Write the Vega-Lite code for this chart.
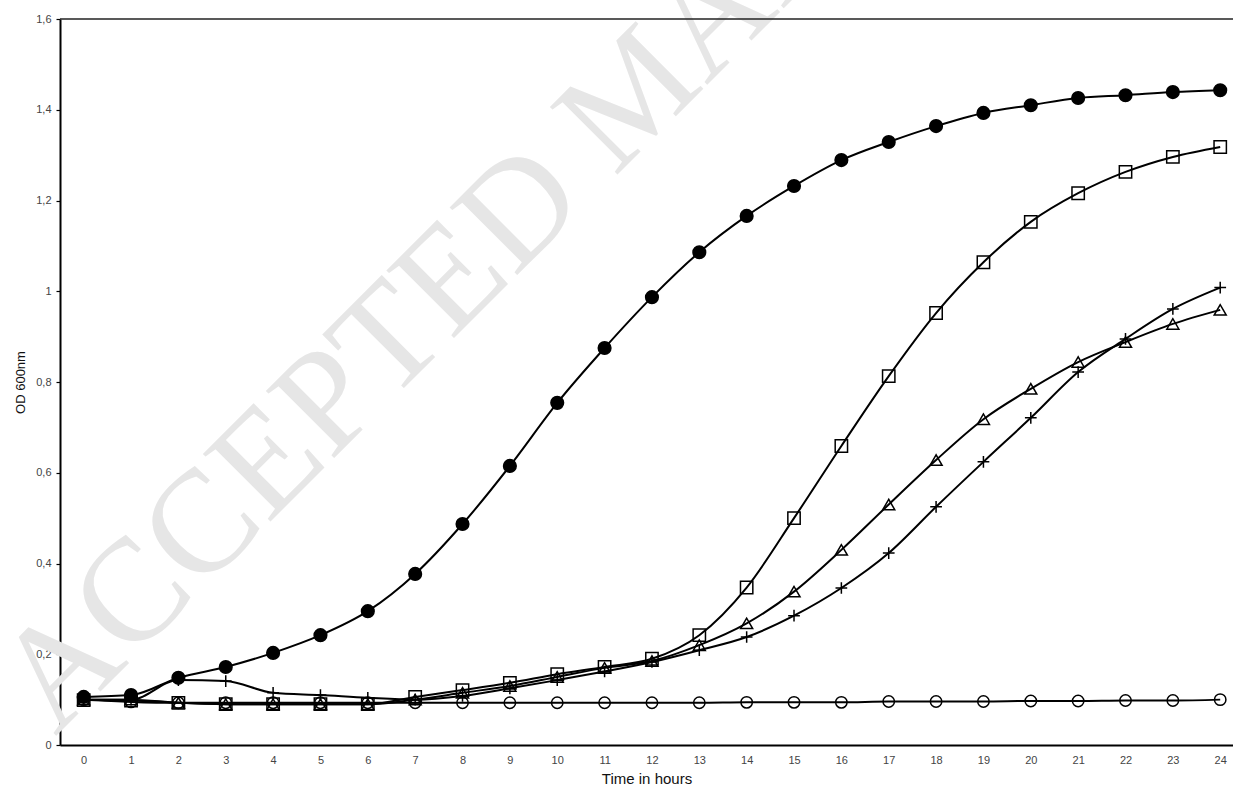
{
  "$schema": "https://vega.github.io/schema/vega-lite/v6.json",
  "autosize": {"type": "none"},
  "padding": {"left": 60, "top": 19, "right": 0, "bottom": 41},
  "width": 1173,
  "height": 726,
  "background": "white",
  "config": {
    "view": {"stroke": null},
    "font": "Liberation Sans"
  },
  "data": {
    "values": [
      {"hour":0,"series":"s1","od":0.106},{"hour":1,"series":"s1","od":0.110},{"hour":2,"series":"s1","od":0.148},{"hour":3,"series":"s1","od":0.172},{"hour":4,"series":"s1","od":0.203},{"hour":5,"series":"s1","od":0.242},{"hour":6,"series":"s1","od":0.295},{"hour":7,"series":"s1","od":0.377},{"hour":8,"series":"s1","od":0.487},{"hour":9,"series":"s1","od":0.615},{"hour":10,"series":"s1","od":0.754},{"hour":11,"series":"s1","od":0.875},{"hour":12,"series":"s1","od":0.987},{"hour":13,"series":"s1","od":1.086},{"hour":14,"series":"s1","od":1.166},{"hour":15,"series":"s1","od":1.232},{"hour":16,"series":"s1","od":1.289},{"hour":17,"series":"s1","od":1.329},{"hour":18,"series":"s1","od":1.364},{"hour":19,"series":"s1","od":1.393},{"hour":20,"series":"s1","od":1.410},{"hour":21,"series":"s1","od":1.426},{"hour":22,"series":"s1","od":1.432},{"hour":23,"series":"s1","od":1.439},{"hour":24,"series":"s1","od":1.443},
      {"hour":0,"series":"s2","od":0.099},{"hour":1,"series":"s2","od":0.098},{"hour":2,"series":"s2","od":0.093},{"hour":3,"series":"s2","od":0.090},{"hour":4,"series":"s2","od":0.090},{"hour":5,"series":"s2","od":0.090},{"hour":6,"series":"s2","od":0.090},{"hour":7,"series":"s2","od":0.106},{"hour":8,"series":"s2","od":0.121},{"hour":9,"series":"s2","od":0.137},{"hour":10,"series":"s2","od":0.156},{"hour":11,"series":"s2","od":0.172},{"hour":12,"series":"s2","od":0.190},{"hour":13,"series":"s2","od":0.242},{"hour":14,"series":"s2","od":0.347},{"hour":15,"series":"s2","od":0.500},{"hour":16,"series":"s2","od":0.659},{"hour":17,"series":"s2","od":0.813},{"hour":18,"series":"s2","od":0.952},{"hour":19,"series":"s2","od":1.064},{"hour":20,"series":"s2","od":1.153},{"hour":21,"series":"s2","od":1.216},{"hour":22,"series":"s2","od":1.263},{"hour":23,"series":"s2","od":1.296},{"hour":24,"series":"s2","od":1.318},
      {"hour":0,"series":"s3","od":0.100},{"hour":1,"series":"s3","od":0.100},{"hour":2,"series":"s3","od":0.093},{"hour":3,"series":"s3","od":0.090},{"hour":4,"series":"s3","od":0.090},{"hour":5,"series":"s3","od":0.090},{"hour":6,"series":"s3","od":0.090},{"hour":7,"series":"s3","od":0.100},{"hour":8,"series":"s3","od":0.115},{"hour":9,"series":"s3","od":0.130},{"hour":10,"series":"s3","od":0.150},{"hour":11,"series":"s3","od":0.170},{"hour":12,"series":"s3","od":0.185},{"hour":13,"series":"s3","od":0.220},{"hour":14,"series":"s3","od":0.268},{"hour":15,"series":"s3","od":0.338},{"hour":16,"series":"s3","od":0.430},{"hour":17,"series":"s3","od":0.530},{"hour":18,"series":"s3","od":0.628},{"hour":19,"series":"s3","od":0.718},{"hour":20,"series":"s3","od":0.785},{"hour":21,"series":"s3","od":0.844},{"hour":22,"series":"s3","od":0.888},{"hour":23,"series":"s3","od":0.928},{"hour":24,"series":"s3","od":0.959},
      {"hour":0,"series":"s4","od":0.100},{"hour":1,"series":"s4","od":0.100},{"hour":2,"series":"s4","od":0.143},{"hour":3,"series":"s4","od":0.141},{"hour":4,"series":"s4","od":0.115},{"hour":5,"series":"s4","od":0.110},{"hour":6,"series":"s4","od":0.104},{"hour":7,"series":"s4","od":0.100},{"hour":8,"series":"s4","od":0.108},{"hour":9,"series":"s4","od":0.125},{"hour":10,"series":"s4","od":0.143},{"hour":11,"series":"s4","od":0.162},{"hour":12,"series":"s4","od":0.183},{"hour":13,"series":"s4","od":0.209},{"hour":14,"series":"s4","od":0.238},{"hour":15,"series":"s4","od":0.285},{"hour":16,"series":"s4","od":0.346},{"hour":17,"series":"s4","od":0.423},{"hour":18,"series":"s4","od":0.525},{"hour":19,"series":"s4","od":0.624},{"hour":20,"series":"s4","od":0.721},{"hour":21,"series":"s4","od":0.822},{"hour":22,"series":"s4","od":0.895},{"hour":23,"series":"s4","od":0.961},{"hour":24,"series":"s4","od":1.008},
      {"hour":0,"series":"s5","od":0.100},{"hour":1,"series":"s5","od":0.095},{"hour":2,"series":"s5","od":0.093},{"hour":3,"series":"s5","od":0.093},{"hour":4,"series":"s5","od":0.093},{"hour":5,"series":"s5","od":0.093},{"hour":6,"series":"s5","od":0.093},{"hour":7,"series":"s5","od":0.093},{"hour":8,"series":"s5","od":0.093},{"hour":9,"series":"s5","od":0.093},{"hour":10,"series":"s5","od":0.093},{"hour":11,"series":"s5","od":0.093},{"hour":12,"series":"s5","od":0.093},{"hour":13,"series":"s5","od":0.093},{"hour":14,"series":"s5","od":0.094},{"hour":15,"series":"s5","od":0.094},{"hour":16,"series":"s5","od":0.094},{"hour":17,"series":"s5","od":0.096},{"hour":18,"series":"s5","od":0.096},{"hour":19,"series":"s5","od":0.096},{"hour":20,"series":"s5","od":0.097},{"hour":21,"series":"s5","od":0.097},{"hour":22,"series":"s5","od":0.098},{"hour":23,"series":"s5","od":0.098},{"hour":24,"series":"s5","od":0.100}
    ]
  },
  "layer": [
    {
      "data": {"values": [{"label": "ACCEPTED MANUSCRIPT"}]},
      "mark": {"type": "text", "font": "Liberation Serif", "fontSize": 146, "color": "#e6e6e6", "angle": -45, "align": "left", "baseline": "alphabetic"},
      "encoding": {
        "x": {"datum": -0.60, "type": "quantitative", "scale": {"domain": [-0.5, 24.27], "nice": false, "zero": false}},
        "y": {"datum": 0.018, "type": "quantitative"},
        "text": {"field": "label"}
      }
    },
    {
      "data": {"values": [{"label": "top"}]},
      "mark": {"type": "rule", "color": "#222", "strokeWidth": 1.5},
      "encoding": {
        "y": {"datum": 1.6, "type": "quantitative"}
      }
    },
    {
      "mark": {"type": "line", "color": "black", "strokeWidth": 2, "interpolate": "monotone"},
      "encoding": {
        "x": {
          "field": "hour", "type": "quantitative",
          "scale": {"domain": [-0.5, 24.27], "nice": false, "zero": false},
          "axis": {
            "title": "Time in hours",
            "titleFont": "Liberation Sans", "titleFontSize": 15, "titleFontWeight": "normal", "titleColor": "#111", "titlePadding": 6,
            "values": [0,0.5,1,1.5,2,2.5,3,3.5,4,4.5,5,5.5,6,6.5,7,7.5,8,8.5,9,9.5,10,10.5,11,11.5,12,12.5,13,13.5,14,14.5,15,15.5,16,16.5,17,17.5,18,18.5,19,19.5,20,20.5,21,21.5,22,22.5,23,23.5,24],
            "labelExpr": "datum.value % 1 === 0 ? datum.label : ''",
            "labelOverlap": false, "labelFlush": false,
            "labelFont": "Liberation Sans", "labelFontSize": 11, "labelColor": "#444", "labelPadding": 5,
            "tickSize": 4, "tickColor": "black", "tickWidth": 1.2,
            "tickOpacity": {"condition": {"test": "datum.value % 1 === 0", "value": 0}, "value": 1},
            "domainColor": "black", "domainWidth": 2,
            "grid": false
          }
        },
        "y": {
          "field": "od", "type": "quantitative",
          "scale": {"domain": [0, 1.6], "nice": false},
          "axis": {
            "title": "OD 600nm",
            "titleFont": "Liberation Sans", "titleFontSize": 13, "titleFontWeight": "normal", "titleColor": "#111", "titlePadding": 8,
            "values": [0,0.2,0.4,0.6,0.8,1,1.2,1.4,1.6],
            "labelExpr": "replace(format(datum.value, '~g'), '.', ',')",
            "labelFont": "Liberation Sans", "labelFontSize": 11, "labelColor": "#444", "labelPadding": 5,
            "tickSize": 4, "tickColor": "black", "tickWidth": 1.2,
            "domainColor": "black", "domainWidth": 2,
            "grid": false
          }
        },
        "detail": {"field": "series"}
      }
    },
    {
      "mark": {"type": "point", "filled": false, "stroke": "black", "strokeWidth": 1.5, "opacity": 1},
      "encoding": {
        "x": {"field": "hour", "type": "quantitative"},
        "y": {"field": "od", "type": "quantitative"},
        "shape": {
          "field": "series", "type": "nominal", "legend": null,
          "scale": {"domain": ["s1","s2","s3","s4","s5"], "range": ["circle","square","triangle-up","M-1,0H1M0,-1V1","circle"]}
        },
        "fill": {
          "field": "series", "type": "nominal", "legend": null,
          "scale": {"domain": ["s1","s2","s3","s4","s5"], "range": ["black","transparent","transparent","transparent","transparent"]}
        },
        "size": {
          "field": "series", "type": "nominal", "legend": null,
          "scale": {"domain": ["s1","s2","s3","s4","s5"], "range": [160, 130, 130, 170, 130]}
        }
      }
    }
  ]
}
